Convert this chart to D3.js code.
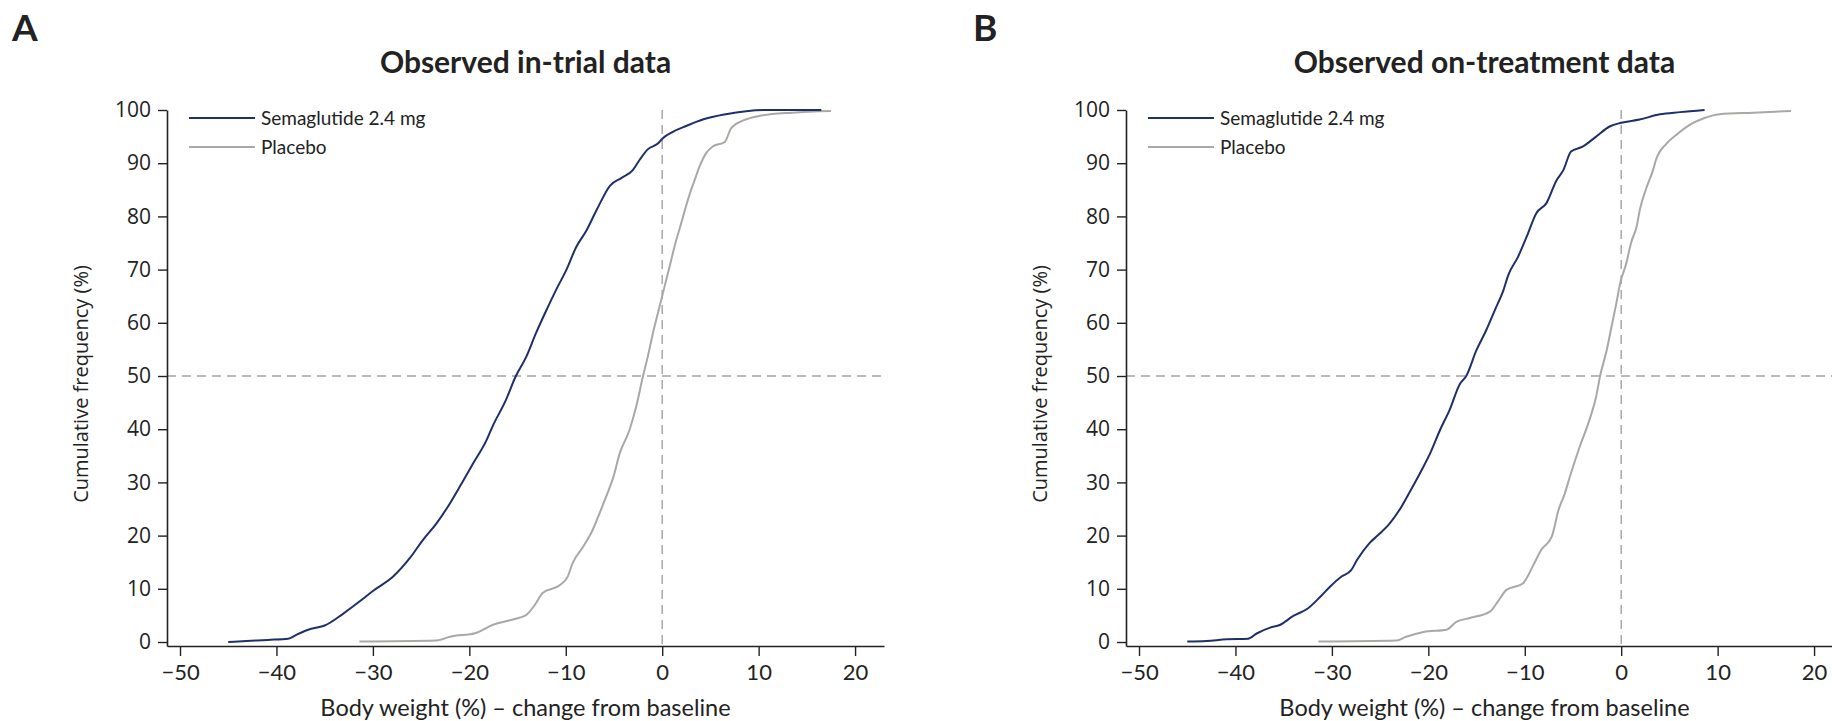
<!DOCTYPE html>
<html>
<head>
<meta charset="utf-8">
<script src="https://cdn.jsdelivr.net/npm/d3@7"></script>
<style>
  body { margin: 0; background: #fff; }
  svg { display: block; }
</style>
</head>
<body>
<div id="chart"></div>
<script>
// cumulative frequency curves, [change from baseline %, cumulative %]
var semaInTrial = [[-45.0,0],[-43.1,0.2],[-40.9,0.4],[-38.8,0.6],[-37.9,1.4],[-36.4,2.5],[-35.0,3.1],[-33.1,5.3],
  [-31.4,7.6],[-30.0,9.6],[-27.9,12.3],[-26.2,15.7],[-24.8,19.2],[-23.4,22.3],[-22.0,26.1],[-20.8,29.8],
  [-19.6,33.6],[-18.2,38.0],[-17.6,40.5],[-16.2,45.5],[-15.2,49.9],[-14.1,53.6],[-13.1,58.0],[-12.0,62.4],
  [-11.0,66.2],[-9.95,69.9],[-8.9,74.3],[-7.9,77.2],[-6.8,81.2],[-5.4,85.8],[-4.25,87.2],[-3.05,88.7],
  [-2.35,90.6],[-1.5,92.6],[-0.45,93.7],[0.06,94.7],[1.1,95.9],[2.5,97.0],[4.2,98.2],[6.6,99.2],[10.8,100],[16.5,100]];

var placeboInTrial = [[-31.4,0.1],[-23.4,0.3],[-22.0,1.0],[-19.3,1.7],[-17.6,3.2],[-15.8,4.1],[-14.1,5.1],[-13.2,7.0],
  [-12.4,9.2],[-10.6,10.7],[-9.8,12.3],[-9.3,14.8],[-8.2,17.9],[-7.2,21.1],[-6.5,24.2],[-5.6,28.3],[-5.1,30.8],
  [-4.4,35.5],[-3.4,39.8],[-2.7,44.2],[-2.0,49.9],[-1.5,53.6],[-0.97,58.0],[-0.28,63.0],[0.24,66.8],[0.76,70.5],
  [1.27,74.3],[1.97,78.7],[2.4,81.5],[3.0,85.0],[3.3,86.5],[3.9,89.5],[4.55,91.9],[5.2,93.1],[6.5,94.0],
  [7.15,96.6],[8.35,98.0],[10.1,98.9],[13.5,99.5],[17.5,99.8]];

var semaOnTreatment = [[-45.0,0.1],[-43.0,0.2],[-40.9,0.5],[-38.7,0.6],[-37.8,1.6],[-36.4,2.7],[-35.4,3.2],[-34.0,4.9],
  [-32.5,6.3],[-31.2,8.5],[-30.2,10.4],[-29.0,12.3],[-28.0,13.5],[-27.4,15.4],[-26.1,18.6],[-25.2,20.1],
  [-24.0,22.3],[-23.0,24.8],[-21.9,28.3],[-20.7,32.3],[-19.8,35.5],[-18.8,39.8],[-17.8,43.6],[-16.7,48.6],
  [-16.1,49.9],[-15.0,54.9],[-14.0,58.6],[-13.1,62.4],[-12.2,66.2],[-11.7,69.0],[-10.7,72.4],[-9.8,76.2],
  [-8.8,80.6],[-7.75,82.5],[-6.7,86.8],[-6.0,88.7],[-5.2,92.2],[-4.0,93.1],[-2.6,95.0],[-1.2,96.9],[0,97.6],
  [1.9,98.2],[4.0,99.2],[6.1,99.6],[8.65,100]];

var placeboOnTreatment = [[-31.4,0.1],[-23.3,0.3],[-22.3,1.0],[-20.5,1.9],[-18.1,2.3],[-17.1,3.8],[-15.7,4.5],[-13.6,5.7],
  [-12.8,7.6],[-11.9,9.8],[-10.2,11.0],[-9.1,14.5],[-8.3,17.3],[-7.2,19.8],[-6.5,24.8],[-5.85,27.9],[-5.3,31.2],
  [-4.3,36.7],[-3.3,41.7],[-2.6,46.1],[-2.2,49.9],[-1.5,54.9],[-1.0,59.3],[-0.5,63.7],[-0.1,67.5],[0.5,71.0],
  [1.05,75.2],[1.6,78.1],[1.95,81.4],[2.6,85.3],[3.3,88.7],[3.6,90.6],[4.7,93.7],[5.7,95.3],[7.1,97.2],
  [8.5,98.4],[10.2,99.2],[13.7,99.5],[17.6,99.8]];

var xTicks = [-50, -40, -30, -20, -10, 0, 10, 20];
var yTicks = [0, 10, 20, 30, 40, 50, 60, 70, 80, 90, 100];
var seriesNames = ["Semaglutide 2.4 mg", "Placebo"];
var panelTitles = ["Observed in-trial data", "Observed on-treatment data"];
var panelLetters = ["A", "B"];

var semaColor = "#1f2f68",
    placeboColor = "#a9a8a4",
    refColor = "#a3a3a3",
    inkColor = "#222";

var width = 1832, height = 721;
var plotW = 717, plotTop = 110, plotBottom = 646;

var svg = d3.select("#chart")
  .append("svg")
    .attr("width", width)
    .attr("height", height);

var x = d3.scaleLinear().domain([-51.35, 23]).range([0, plotW]);
var y = d3.scaleLinear().domain([-0.75, 100]).range([plotBottom, plotTop]);

var line = d3.line()
  .x(function(d) { return x(d[0]); })
  .y(function(d) { return y(d[1]); })
  .curve(d3.curveMonotoneX);

function drawPanel(left, letterX, idx, semaData, placeboData) {
  var g = svg.append("g").attr("transform", "translate(" + left + ",0)");

  svg.append("text")
    .attr("x", letterX).attr("y", 41)
    .attr("font-family", "Lato, sans-serif")
    .attr("font-weight", "bold")
    .attr("font-size", 37)
    .attr("fill", inkColor)
    .text(panelLetters[idx]);

  g.append("text")
    .attr("x", plotW / 2).attr("y", 73)
    .attr("text-anchor", "middle")
    .attr("font-family", "Lato, sans-serif")
    .attr("font-weight", "bold")
    .attr("font-size", 30)
    .attr("fill", inkColor)
    .text(panelTitles[idx]);

  // reference lines
  g.append("line")
    .attr("x1", 0).attr("x2", plotW)
    .attr("y1", y(50)).attr("y2", y(50))
    .attr("stroke", refColor).attr("stroke-width", 1.4)
    .attr("stroke-dasharray", "9,6");
  g.append("line")
    .attr("x1", x(0)).attr("x2", x(0))
    .attr("y1", y(100)).attr("y2", plotBottom)
    .attr("stroke", refColor).attr("stroke-width", 1.4)
    .attr("stroke-dasharray", "9,6");

  // curves
  g.append("path").datum(placeboData)
    .attr("fill", "none").attr("stroke", placeboColor).attr("stroke-width", 2)
    .attr("d", line);
  g.append("path").datum(semaData)
    .attr("fill", "none").attr("stroke", semaColor).attr("stroke-width", 2)
    .attr("d", line);

  // axes
  var xAxis = g.append("g")
    .attr("transform", "translate(0," + plotBottom + ")")
    .call(d3.axisBottom(x).tickValues(xTicks).tickSize(10).tickSizeOuter(0).tickPadding(8)
      .tickFormat(function(d) { return d < 0 ? "\u2212" + Math.abs(d) : d; }));
  xAxis.selectAll("text")
    .attr("font-family", "Lato, sans-serif").attr("font-size", 22).attr("fill", inkColor);

  var yAxis = g.append("g")
    .call(d3.axisLeft(y).tickValues(yTicks).tickSize(9).tickSizeOuter(0).tickPadding(7));
  yAxis.selectAll("text")
    .attr("font-family", "'Open Sans', sans-serif").attr("font-size", 21).attr("fill", inkColor);

  [xAxis, yAxis].forEach(function(a) {
    a.select(".domain").attr("stroke", inkColor).attr("stroke-width", 1.6);
    a.selectAll(".tick line").attr("stroke", inkColor).attr("stroke-width", 1.4);
  });

  g.append("text")
    .attr("x", plotW / 2).attr("y", 716)
    .attr("text-anchor", "middle")
    .attr("font-family", "Lato, sans-serif")
    .attr("font-size", 23.5)
    .attr("fill", inkColor)
    .text("Body weight (%) \u2013 change from baseline");

  g.append("text")
    .attr("transform", "translate(-79," + (y(50) + 8) + ") rotate(-90)")
    .attr("text-anchor", "middle")
    .attr("font-family", "'Open Sans', sans-serif")
    .attr("font-size", 20)
    .attr("fill", inkColor)
    .text("Cumulative frequency (%)");

  // legend
  var legend = g.selectAll(".legend")
    .data(seriesNames)
    .enter().append("g")
      .attr("transform", function(d, i) { return "translate(22," + (118 + i * 29) + ")"; });
  legend.append("line")
    .attr("x1", 0).attr("x2", 66)
    .attr("stroke", function(d, i) { return i === 0 ? semaColor : placeboColor; })
    .attr("stroke-width", 1.8);
  legend.append("text")
    .attr("x", 72).attr("dy", "0.35em")
    .attr("font-family", "Lato, sans-serif")
    .attr("font-size", 19)
    .attr("fill", inkColor)
    .text(function(d) { return d; });
}

drawPanel(167, 12, 0, semaInTrial, placeboInTrial);
drawPanel(1126, 973, 1, semaOnTreatment, placeboOnTreatment);
</script>
</body>
</html>
